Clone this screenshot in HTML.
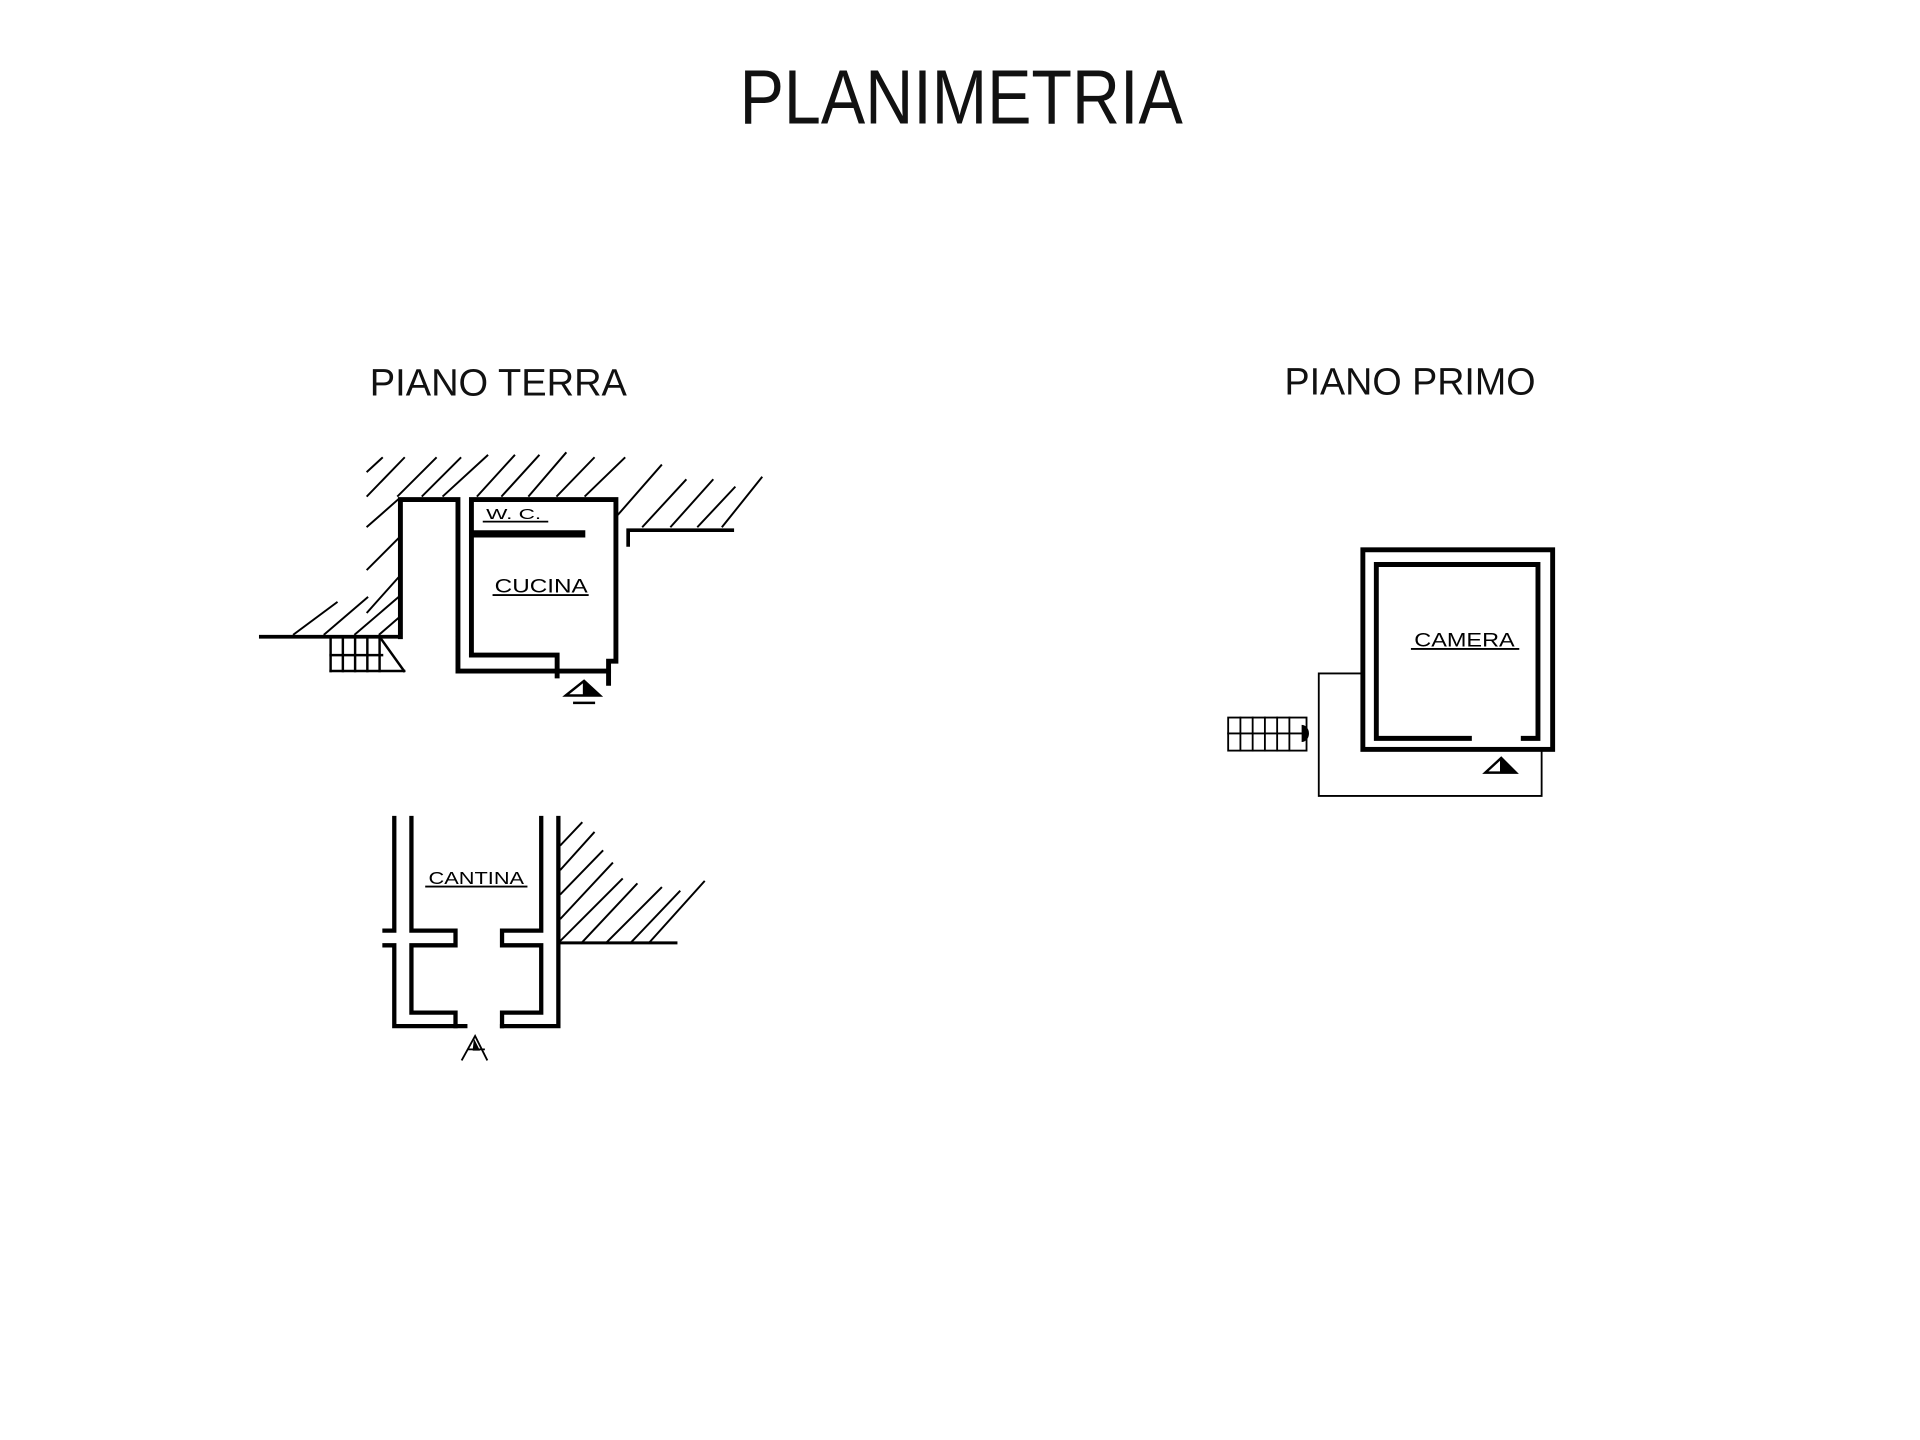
<!DOCTYPE html>
<html><head><meta charset="utf-8"><style>html,body{margin:0;padding:0;background:#fff}svg{display:block}</style></head>
<body>
<svg width="1920" height="1440" viewBox="0 0 1568 1176" xmlns="http://www.w3.org/2000/svg" font-family="Liberation Sans, sans-serif">
<rect width="1568" height="1176" fill="#fff"/>
<text x="604" y="101" font-size="63" textLength="362" lengthAdjust="spacingAndGlyphs" fill="#111">PLANIMETRIA</text>
<text x="302" y="323" font-size="31" textLength="210" lengthAdjust="spacingAndGlyphs" fill="#111">PIANO TERRA</text>
<text x="1049" y="322" font-size="31" textLength="205" lengthAdjust="spacingAndGlyphs" fill="#111">PIANO PRIMO</text>

<g stroke="#000" fill="none" stroke-linecap="square">
<!-- hatching piano terra -->
<g stroke-width="1.6">
<line x1="300" y1="385" x2="312" y2="374"/>
<line x1="300" y1="405" x2="330" y2="374"/>
<line x1="325" y1="405" x2="356" y2="374"/>
<line x1="345" y1="405" x2="376" y2="374"/>
<line x1="362" y1="405" x2="398" y2="372"/>
<line x1="390" y1="405" x2="420" y2="372"/>
<line x1="410" y1="405" x2="440" y2="372"/>
<line x1="432" y1="405" x2="462" y2="370"/>
<line x1="455" y1="405" x2="485" y2="374"/>
<line x1="478" y1="405" x2="510" y2="374"/>
<line x1="505" y1="420" x2="540" y2="380"/>
<line x1="525" y1="430" x2="560" y2="392"/>
<line x1="548" y1="430" x2="582" y2="392"/>
<line x1="570" y1="430" x2="600" y2="398"/>
<line x1="590" y1="430" x2="622" y2="390"/>
<line x1="300" y1="430" x2="325" y2="408"/>
<line x1="300" y1="465" x2="325" y2="440"/>
<line x1="300" y1="500" x2="325" y2="472"/>
<line x1="240" y1="518" x2="275" y2="492"/>
<line x1="265" y1="518" x2="300" y2="488"/>
<line x1="290" y1="518" x2="325" y2="488"/>
<line x1="310" y1="518" x2="325" y2="505"/>
</g>
<!-- ground lines -->
<line x1="213" y1="520" x2="327" y2="520" stroke-width="3"/>
<polyline points="513,445 513,433 598,433" stroke-width="3"/>
<!-- walls -->
<polyline points="327,520 327,408 374,408 374,548 497,548" stroke-width="4"/>
<polyline points="385,535 385,408 503,408 503,540 497,540 497,558" stroke-width="4"/>
<polyline points="385,535 455,535 455,552" stroke-width="4"/>
<line x1="388" y1="436" x2="475" y2="436" stroke-width="6"/>
<line x1="395" y1="426" x2="447" y2="426" stroke-width="1.5"/>
<line x1="403" y1="486" x2="480" y2="486" stroke-width="1.5"/>
<!-- stairs -->
<g stroke-width="2">
<line x1="270" y1="520" x2="270" y2="548"/>
<line x1="270" y1="548" x2="330" y2="548"/>
<line x1="310" y1="520" x2="330" y2="548"/>
<line x1="270" y1="535" x2="312" y2="535"/>
<line x1="280" y1="520" x2="280" y2="548"/><line x1="290" y1="520" x2="290" y2="548"/><line x1="300" y1="520" x2="300" y2="548"/><line x1="310" y1="520" x2="310" y2="548"/>
</g>
<!-- cantina -->
<g stroke-width="3.5">
<polyline points="322,668 322,760 314,760"/>
<polyline points="314,772 322,772 322,838 380,838"/>
<polyline points="336,668 336,760 372,760 372,772 336,772 336,827 372,827 372,838"/>
<polyline points="442,668 442,760 410,760 410,772 442,772 442,827 410,827 410,838"/>
<polyline points="456,668 456,838 410,838"/>
</g>
<line x1="348" y1="724" x2="430" y2="724" stroke-width="1.5"/>
<line x1="456" y1="770" x2="552" y2="770" stroke-width="2.5"/>
<g stroke-width="1.6">
<line x1="458" y1="690" x2="475" y2="672"/>
<line x1="458" y1="710" x2="485" y2="680"/>
<line x1="458" y1="730" x2="492" y2="695"/>
<line x1="458" y1="750" x2="500" y2="705"/>
<line x1="458" y1="768" x2="508" y2="718"/>
<line x1="475" y1="770" x2="520" y2="722"/>
<line x1="495" y1="770" x2="540" y2="725"/>
<line x1="515" y1="770" x2="555" y2="728"/>
<line x1="530" y1="770" x2="575" y2="720"/>
</g>
<!-- camera -->
<rect x="1113" y="449" width="155" height="163" stroke-width="4"/>
<polyline points="1200,603 1124,603 1124,461 1256,461 1256,603 1244,603" stroke-width="4"/>
<polyline points="1112,550 1077,550 1077,650 1259,650 1259,612" stroke-width="1.5"/>
<g stroke-width="1.5">
<rect x="1003" y="586" width="64" height="27"/>
<line x1="1003" y1="599" x2="1067" y2="599"/>
<line x1="1013" y1="586" x2="1013" y2="613"/><line x1="1023" y1="586" x2="1023" y2="613"/><line x1="1033" y1="586" x2="1033" y2="613"/><line x1="1043" y1="586" x2="1043" y2="613"/><line x1="1053" y1="586" x2="1053" y2="613"/>
</g>
<line x1="1153" y1="530" x2="1240" y2="530" stroke-width="1.5"/>
</g>
<!-- arrows / markers -->
<path d="M1063,592 a6,7 0 0 1 0,14 z" fill="#000"/>
<path d="M462,568 L477,556 L490,568 Z" fill="none" stroke="#000" stroke-width="2"/>
<path d="M476,556 L490,568 L476,568 Z" fill="#000"/>
<line x1="468" y1="574" x2="486" y2="574" stroke="#000" stroke-width="2"/>
<path d="M1213,631 L1226,619 L1238,631 Z" fill="none" stroke="#000" stroke-width="2"/>
<path d="M1225,619 L1238,631 L1225,631 Z" fill="#000"/>
<path d="M377,866 L388,846 L398,866 M382,857 L396,857" stroke="#000" stroke-width="1.5" fill="none"/>
<path d="M387,848 L392,858 L386,858 Z" fill="#000"/>
<g font-size="16" fill="#000">
<text x="404" y="484" textLength="76" lengthAdjust="spacingAndGlyphs">CUCINA</text>
<text x="397" y="424" font-size="12" textLength="45" lengthAdjust="spacingAndGlyphs">W. C.</text>
<text x="350" y="722" font-size="14" textLength="78" lengthAdjust="spacingAndGlyphs">CANTINA</text>
<text x="1155" y="528" textLength="82" lengthAdjust="spacingAndGlyphs">CAMERA</text>
</g>
</svg>
</body></html>
